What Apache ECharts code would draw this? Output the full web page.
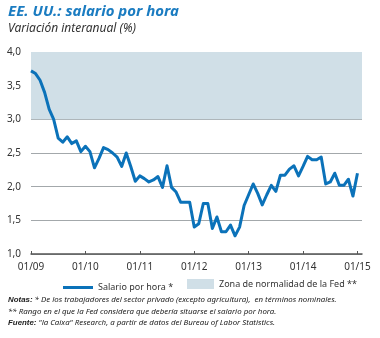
<!DOCTYPE html>
<html>
<head>
<meta charset="utf-8">
<script src="https://cdn.jsdelivr.net/npm/echarts@6/dist/echarts.min.js"></script>
<style>
  html, body { margin: 0; padding: 0; background: #fff; }
  #chart { width: 380px; height: 338px; }
</style>
</head>
<body>
<div id="chart"></div>
<script>
// Year labels for the January ticks and the months within each year
const years = ['09', '10', '11', '12', '13', '14', '15'];
const months = ['01', '02', '03', '04', '05', '06', '07', '08', '09', '10', '11', '12'];

// Monthly year-on-year growth of hourly wages, Jan 2009 - Jan 2015 (%)
const wageGrowth = [
  3.72, 3.68, 3.58, 3.40, 3.15, 3.00, 2.72, 2.66, 2.74, 2.64, 2.68, 2.52,
  2.60, 2.52, 2.28, 2.42, 2.58, 2.55, 2.50, 2.44, 2.30, 2.50, 2.30, 2.08,
  2.16, 2.12, 2.07, 2.10, 2.15, 1.99, 2.31, 1.99, 1.92, 1.77, 1.77, 1.77,
  1.40, 1.45, 1.75, 1.75, 1.38, 1.55, 1.33, 1.33, 1.43, 1.27, 1.40, 1.72,
  1.88, 2.04, 1.90, 1.73, 1.88, 2.02, 1.93, 2.17, 2.17, 2.26, 2.31, 2.16,
  2.30, 2.45, 2.40, 2.40, 2.44, 2.04, 2.07, 2.20, 2.02, 2.02, 2.11, 1.86,
  2.20
];

// Fed "normal" band for wage growth (%)
const fedBand = [3.0, 4.0];

// Category axis: one slot per month, plus one trailing month of room
const categories = [];
years.forEach(function (y) {
  months.forEach(function (m) { categories.push(m + '/' + y); });
});
categories.length = wageGrowth.length + 1;

const blue = '#0b72b9';
const bandColor = '#d0dfe7';
const textColor = '#333333';
const font = '"Noto Sans", sans-serif';

const chart = echarts.init(document.getElementById('chart'), null, { renderer: 'canvas' });

chart.setOption({
  animation: false,
  backgroundColor: '#ffffff',
  textStyle: { fontFamily: font },
  grid: { left: 31, right: 18, top: 52, bottom: 84, containLabel: false },
  xAxis: {
    type: 'category',
    data: categories,
    boundaryGap: false,
    axisLine: { lineStyle: { color: '#555555', width: 1.5 } },
    axisTick: {
      inside: true,
      length: 3,
      interval: function (i) { return i % 12 === 0; },
      lineStyle: { color: '#555555' }
    },
    axisLabel: {
      interval: function (i) { return i % 12 === 0; },
      color: textColor,
      fontSize: 10,
      margin: 8,
      fontFamily: font
    },
    splitLine: { show: false }
  },
  yAxis: {
    type: 'value',
    min: 1,
    max: 4,
    interval: 0.5,
    axisLine: { show: false },
    axisTick: { show: false },
    axisLabel: {
      color: textColor,
      fontSize: 10,
      margin: 10,
      fontFamily: font,
      formatter: function (v) { return v.toFixed(1).replace('.', ','); }
    },
    splitLine: { lineStyle: { color: '#a3a8ab', width: 1 } }
  },
  legend: [
    {
      data: [{ name: 'Salario por hora *', icon: 'rect' }],
      left: 58,
      top: 278,
      itemWidth: 30,
      itemHeight: 3,
      itemGap: 8,
      textStyle: { color: textColor, fontSize: 9, fontFamily: font }
    },
    {
      data: [{ name: 'Zona de normalidad de la Fed **', icon: 'rect' }],
      left: 182,
      top: 274,
      itemWidth: 27,
      itemHeight: 10,
      textStyle: { color: textColor, fontSize: 9, fontFamily: font }
    }
  ],
  series: [
    {
      name: 'Zona de normalidad de la Fed **',
      type: 'line',
      data: [],
      itemStyle: { color: bandColor },
      lineStyle: { color: bandColor },
      silent: true,
      z: 1,
      markArea: {
        silent: true,
        itemStyle: { color: bandColor },
        data: [[{ yAxis: fedBand[0] }, { yAxis: fedBand[1] }]]
      }
    },
    {
      name: 'Salario por hora *',
      type: 'line',
      data: wageGrowth,
      showSymbol: false,
      symbol: 'none',
      itemStyle: { color: blue },
      lineStyle: { color: blue, width: 3, join: 'round' },
      z: 5
    }
  ],
  graphic: [
    {
      type: 'text',
      left: 8,
      top: 4,
      style: {
        text: 'EE. UU.: salario por hora',
        fill: '#1b7cc1',
        font: 'italic bold 15px "Noto Sans", sans-serif'
      }
    },
    {
      type: 'text',
      left: 8,
      top: 23,
      style: {
        text: 'Variación interanual (%)',
        fill: '#333333',
        font: 'italic 12px "Noto Sans", sans-serif'
      }
    },
    {
      type: 'text',
      left: 8,
      top: 294,
      style: {
        text: '{b|Notas:} * De los trabajadores del sector privado (excepto agricultura),  en términos nominales.\n** Rango en el que la Fed considera que debería situarse el salario por hora.\n{b|Fuente:} "la Caixa" Research, a partir de datos del Bureau of Labor Statistics.',
        fill: '#222222',
        font: 'italic 7.9px "Noto Sans", sans-serif',
        lineHeight: 11.5,
        rich: {
          b: { fontWeight: 'bold', fontStyle: 'italic', fontSize: 7.9, fill: '#222222', lineHeight: 11.5 }
        }
      }
    }
  ]
});
</script>
</body>
</html>
